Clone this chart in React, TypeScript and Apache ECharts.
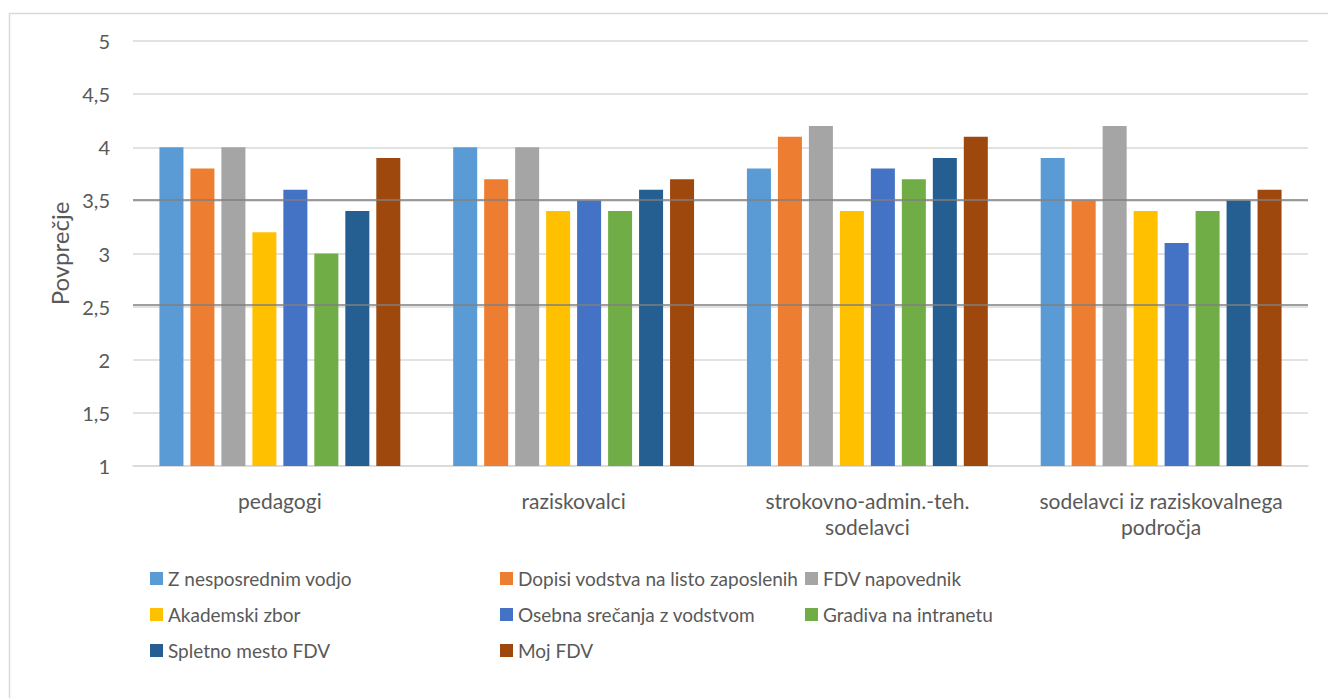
import React, { useEffect, useRef } from "react";
import * as echarts from "echarts";

const categories = [
  "pedagogi",
  "raziskovalci",
  "strokovno-admin.-teh.\nsodelavci",
  "sodelavci iz raziskovalnega\npodročja",
];

const seriesNames = [
  "Z nesposrednim vodjo",
  "Dopisi vodstva na listo zaposlenih",
  "FDV napovednik",
  "Akademski zbor",
  "Osebna srečanja z vodstvom",
  "Gradiva na intranetu",
  "Spletno mesto FDV",
  "Moj FDV",
];

const seriesColors = [
  "#5B9BD5",
  "#ED7D31",
  "#A5A5A5",
  "#FFC000",
  "#4472C4",
  "#70AD47",
  "#255E91",
  "#9E480E",
];

const zNesposrednimVodjo = [4.0, 4.0, 3.8, 3.9];
const dopisiVodstva = [3.8, 3.7, 4.1, 3.5];
const fdvNapovednik = [4.0, 4.0, 4.2, 4.2];
const akademskiZbor = [3.2, 3.4, 3.4, 3.4];
const osebnaSrecanja = [3.6, 3.5, 3.8, 3.1];
const gradivaIntranet = [3.0, 3.4, 3.7, 3.4];
const spletnoMesto = [3.4, 3.6, 3.9, 3.5];
const mojFdv = [3.9, 3.7, 4.1, 3.6];

const seriesValues = [
  zNesposrednimVodjo,
  dopisiVodstva,
  fdvNapovednik,
  akademskiZbor,
  osebnaSrecanja,
  gradivaIntranet,
  spletnoMesto,
  mojFdv,
];

const darkLineValues = [3.51, 2.52];

const yMin = 1;
const yMax = 5;
const yInterval = 0.5;

const FONT = "Lato";
const TEXT = "#595959";

export default function App() {
  const ref = useRef<HTMLDivElement>(null);

  useEffect(() => {
    if (!ref.current) return;
    const chart = echarts.init(ref.current, undefined, { renderer: "svg" });

    const legendLeft = [150, 500, 805];
    const legendTop = [569, 605, 641];

    const legends = seriesNames.map((name, i) => ({
      data: [name],
      left: legendLeft[i % 3],
      top: legendTop[Math.floor(i / 3)],
      itemWidth: 13,
      itemHeight: 13,
      icon: "rect",
      itemGap: 0,
      textStyle: { color: TEXT, fontSize: 19, fontFamily: FONT, padding: [0, 0, 0, 0] },
      padding: 0,
      selectedMode: false,
    }));

    const barSeries: any[] = seriesNames.map((name, i) => ({
      name,
      type: "bar",
      data: seriesValues[i],
      itemStyle: { color: seriesColors[i] },
      barGap: "29%",
      barCategoryGap: "18%",
    }));

    barSeries.push({
      name: "__lines",
      type: "line",
      data: [],
      z: 10,
      silent: true,
      markLine: {
        symbol: ["none", "none"],
        silent: true,
        label: { show: false },
        lineStyle: { color: "#7f7f7f", width: 1.5, type: "solid" },
        data: darkLineValues.map((v) => ({ yAxis: v })),
        z: 10,
      },
    });

    chart.setOption({
      animation: false,
      backgroundColor: "#ffffff",
      textStyle: { fontFamily: FONT },
      graphic: [
        {
          type: "rect",
          left: 7,
          top: 11,
          shape: { width: 1340, height: 720 },
          style: { fill: "none", stroke: "#d9d9d9", lineWidth: 1.5 },
          silent: true,
        },
      ],
      legend: legends,
      grid: { left: 133, right: 20, top: 41, bottom: 232, containLabel: false },
      xAxis: {
        type: "category",
        data: categories,
        axisTick: { show: false },
        axisLine: { show: true, lineStyle: { color: "#d9d9d9", width: 1.5 } },
        axisLabel: {
          color: TEXT,
          fontSize: 21,
          fontFamily: FONT,
          margin: 21,
          lineHeight: 26,
          interval: 0,
        },
      },
      yAxis: {
        type: "value",
        min: yMin,
        max: yMax,
        interval: yInterval,
        name: "Povprečje",
        nameLocation: "middle",
        nameGap: 60,
        nameTextStyle: { color: TEXT, fontSize: 24, fontFamily: FONT },
        axisLine: { show: false },
        axisTick: { show: false },
        splitLine: { lineStyle: { color: "#d9d9d9", width: 1.5 } },
        axisLabel: {
          color: TEXT,
          fontSize: 20,
          fontFamily: FONT,
          margin: 23,
          formatter: (v: number) => String(v).replace(".", ","),
        },
      },
      series: barSeries,
    });

    return () => chart.dispose();
  }, []);

  return (
    <div
      ref={ref}
      style={{ position: "absolute", left: 0, top: 0, width: 1328, height: 698 }}
    />
  );
}
